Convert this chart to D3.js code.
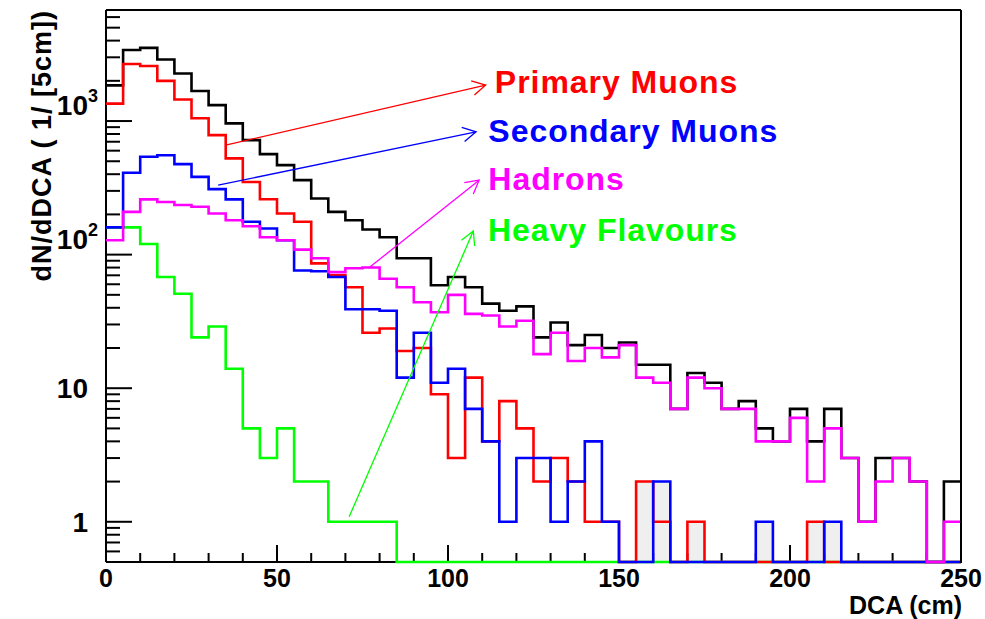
<!DOCTYPE html>
<html>
<head>
<meta charset="utf-8">
<script src="https://cdn.jsdelivr.net/npm/d3@7"></script>
<style>
  html, body { margin: 0; padding: 0; background: #fff; }
  svg { display: block; font-family: "Liberation Sans", Arial, Helvetica, sans-serif; font-weight: bold; }
</style>
</head>
<body>
<svg id="chart" width="985" height="619"></svg>
<script>
// Lower edges of the 5 cm DCA bins (cm)
const binEdges = [0,5,10,15,20,25,30,35,40,45,50,55,60,65,70,75,80,85,90,95,
  100,105,110,115,120,125,130,135,140,145,150,155,160,165,170,175,180,185,190,195,
  200,205,210,215,220,225,230,235,240,245];
const binWidth = 5;

// Entries per bin
const totalCounts = [1850,3400,3530,2890,2270,1680,1315,960,720,565,468,361,263,209,181,154,135,94,94,59,
  68,57,43,38,41,24,31,21,25,20,22,15,15,7,13,11,7,8,5,4,7,4,7,3,1,3,3,2,0,2];
const primaryMuons = [1350,2670,2580,2000,1450,1050,785,525,350,260,203,176,86,70,57,26,28,19,20,9,
  3,12,4,8,5,2,3,2,1,1,0,2,1,0,1,0,0,0,0,0,0,1,0,0,0,0,0,0,0,0];
const secondaryMuons = [160,410,540,555,476,382,309,259,176,157,128,76,75,68,39,39,38,12,26,11,
  14,7,4,1,3,3,1,2,4,1,0,0,2,0,0,0,0,0,1,0,0,0,1,0,0,0,0,0,0,0];
const hadrons = [128,209,259,248,235,228,203,181,163,135,128,109,94,74,79,80,66,57,44,37,
  50,36,35,29,32,18,26,16,20,17,21,12,11,7,12,10,7,7,4,4,6,2,5,3,1,2,3,2,0,1];
const heavyFlavours = [160,160,120,68,51,24,29,14,5,3,5,2,2,1,1,1,1,0,0,0,
  0,0,0,0,0,0,0,0,0,0,0,0,0,0,0,0,0,0,0,0,0,0,0,0,0,0,0,0,0,0];
// Isolated muon entries in the tail, drawn as a shaded histogram
const tailMuons = [0,0,0,0,0,0,0,0,0,0,0,0,0,0,0,0,0,0,0,0,
  0,0,0,0,0,0,0,0,0,0,0,2,2,0,1,0,0,0,1,0,0,1,1,0,0,0,0,0,0,0];

// Axis ticks
const xMajorTicks = [0,50,100,150,200,250];
const xMinorTicks = [10,20,30,40,60,70,80,90,110,120,130,140,160,170,180,190,210,220,230,240];
const yMajorTicks = [1,10,100,1000];
const yMinorTicks = [0.6,0.7,0.8,0.9,2,3,4,5,6,7,8,9,20,30,40,50,60,70,80,90,
  200,300,400,500,600,700,800,900,2000,3000,4000,5000,6000];
const yTickLabels = [
  {value: 1000, base: "10", exp: "3"},
  {value: 100, base: "10", exp: "2"},
  {value: 10, base: "10", exp: ""},
  {value: 1, base: "1", exp: ""}
];

// Annotations: label text, arrow start on a curve, arrow tip, label anchor (data units)
const annotations = [
  {text: "Primary Muons",   color: "#ff0000", from: [35, 660],  to: [111, 1860], label: [113.7, 1610]},
  {text: "Secondary Muons", color: "#0000ff", from: [32.8, 331], to: [108.2, 830], label: [111.8, 699]},
  {text: "Hadrons",         color: "#ff00ff", from: [76.7, 79], to: [109.1, 361], label: [111.8, 304]},
  {text: "Heavy Flavours",  color: "#00ff00", from: [71.1, 1.09], to: [107.4, 150], label: [111.7, 126]}
];

const svg = d3.select("#chart");
const plot = {left: 106, right: 961, top: 10, bottom: 562};
const yMin = 0.5, yMax = 6780;

const x = d3.scaleLinear().domain([0, 250]).range([plot.left, plot.right]);
const y = d3.scaleLog().domain([yMin, yMax]).range([plot.bottom, plot.top]);

// Step outline of a histogram (empty bins sit on the axis floor)
function stepPath(values) {
  const p = d3.path();
  values.forEach((v, i) => {
    const yy = y(Math.max(v, yMin));
    if (i === 0) p.moveTo(x(binEdges[i]), yy);
    else p.lineTo(x(binEdges[i]), yy);
    p.lineTo(x(binEdges[i] + binWidth), yy);
  });
  return p.toString();
}

// Shaded tail bins
svg.append("g").selectAll("rect")
  .data(tailMuons.map((v, i) => ({v, i})).filter(d => d.v > 0))
  .join("rect")
  .attr("x", d => x(binEdges[d.i]))
  .attr("width", d => x(binEdges[d.i] + binWidth) - x(binEdges[d.i]))
  .attr("y", d => y(d.v))
  .attr("height", d => y(yMin) - y(d.v))
  .attr("fill", "#efefef");

// Axes
const axes = svg.append("g").attr("stroke", "#000").attr("stroke-width", 2);
axes.append("line").attr("x1", plot.left).attr("x2", plot.right).attr("y1", plot.top).attr("y2", plot.top);
axes.append("line").attr("x1", plot.left).attr("x2", plot.left).attr("y1", plot.top).attr("y2", plot.bottom);
axes.append("line").attr("x1", plot.left).attr("x2", plot.right).attr("y1", plot.bottom).attr("y2", plot.bottom);

axes.selectAll(".xmaj").data(xMajorTicks).join("line")
  .attr("x1", d => x(d)).attr("x2", d => x(d)).attr("y1", plot.bottom).attr("y2", plot.bottom - 17);
axes.selectAll(".xmin").data(xMinorTicks).join("line")
  .attr("x1", d => x(d)).attr("x2", d => x(d)).attr("y1", plot.bottom).attr("y2", plot.bottom - 9);
axes.selectAll(".ymaj").data(yMajorTicks).join("line")
  .attr("y1", d => y(d)).attr("y2", d => y(d)).attr("x1", plot.left).attr("x2", plot.left + 26);
axes.selectAll(".ymin").data(yMinorTicks).join("line")
  .attr("y1", d => y(d)).attr("y2", d => y(d)).attr("x1", plot.left).attr("x2", plot.left + 14);

// Histograms: total first, then the components
const series = [
  {values: totalCounts, color: "#000000"},
  {values: heavyFlavours, color: "#00ff00"},
  {values: primaryMuons, color: "#ff0000"},
  {values: secondaryMuons, color: "#0000ff"},
  {values: hadrons, color: "#ff00ff"}
];
svg.append("g").selectAll("path").data(series).join("path")
  .attr("d", d => stepPath(d.values))
  .attr("fill", "none")
  .attr("stroke", d => d.color)
  .attr("stroke-width", 2.6)
  .attr("stroke-linejoin", "miter");

// Right frame edge drawn over the last bin
svg.append("line").attr("x1", plot.right).attr("x2", plot.right)
  .attr("y1", plot.top).attr("y2", plot.bottom + 1)
  .attr("stroke", "#000").attr("stroke-width", 2);

// Tick labels
svg.append("g").selectAll("text").data(xMajorTicks).join("text")
  .attr("x", d => x(d)).attr("y", 587)
  .attr("text-anchor", "middle").attr("font-size", 25)
  .text(d => d);

svg.append("g").selectAll("text").data(yTickLabels).join("text")
  .attr("x", 88)
  .attr("y", d => d.exp ? y(d.value) - 6 : y(d.value) + 10)
  .attr("text-anchor", "end").attr("font-size", 28)
  .text(d => d.base);
svg.append("g").selectAll("text").data(yTickLabels.filter(d => d.exp)).join("text")
  .attr("x", 88).attr("y", d => y(d.value) - 19)
  .attr("font-size", 18)
  .text(d => d.exp);

// Axis titles
svg.append("text").attr("x", 962).attr("y", 614).attr("text-anchor", "end")
  .attr("font-size", 25).text("DCA (cm)");
svg.append("text")
  .attr("transform", "translate(51,10) rotate(-90)")
  .attr("text-anchor", "end").attr("font-size", 27)
  .attr("letter-spacing", 1)
  .text("dN/dDCA ( 1/ [5cm])");

// Annotation arrows and labels
const ann = svg.append("g");
annotations.forEach(a => {
  const x0 = x(a.from[0]), y0 = y(a.from[1]);
  const x1 = x(a.to[0]), y1 = y(a.to[1]);
  const ang = Math.atan2(y1 - y0, x1 - x0);
  const L = 15, spread = 0.5;
  const head = d3.path();
  head.moveTo(x1 - L * Math.cos(ang - spread), y1 - L * Math.sin(ang - spread));
  head.lineTo(x1, y1);
  head.lineTo(x1 - L * Math.cos(ang + spread), y1 - L * Math.sin(ang + spread));
  ann.append("line").attr("x1", x0).attr("y1", y0).attr("x2", x1).attr("y2", y1)
    .attr("stroke", a.color).attr("stroke-width", 1.3);
  ann.append("path").attr("d", head.toString()).attr("fill", "none")
    .attr("stroke", a.color).attr("stroke-width", 1.3);
  ann.append("text").attr("x", x(a.label[0])).attr("y", y(a.label[1]))
    .attr("fill", a.color).attr("font-size", 32)
    .attr("letter-spacing", 0.95)
    .text(a.text);
});
</script>
</body>
</html>
